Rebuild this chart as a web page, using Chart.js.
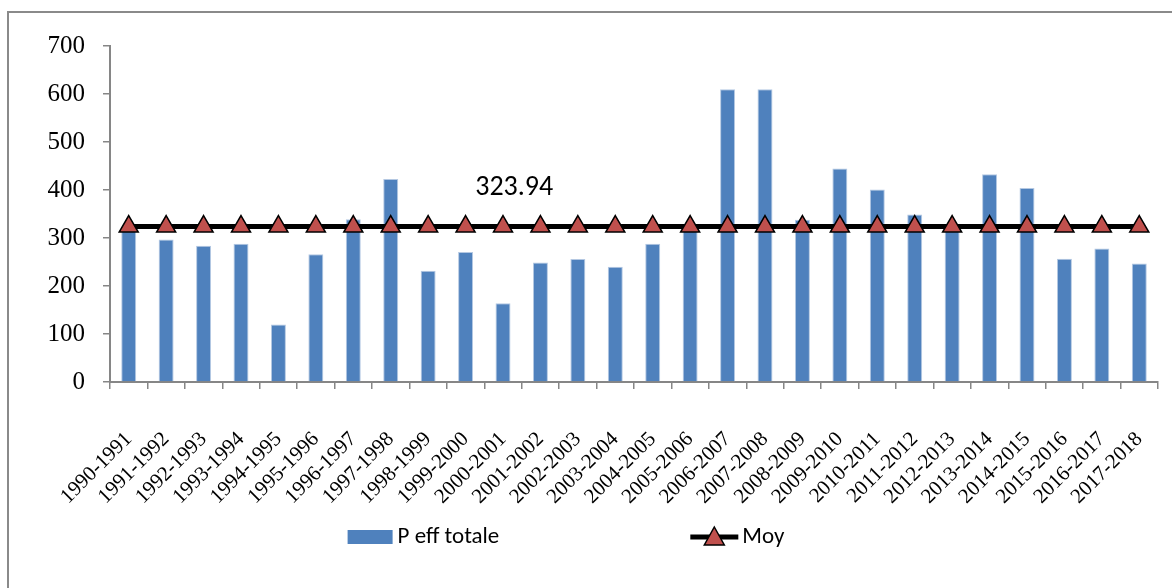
<!DOCTYPE html>
<html lang="fr">
<head>
<meta charset="UTF-8">
<title>P eff totale et moyenne</title>
<script src="https://cdn.jsdelivr.net/npm/chart.js"></script>
<style>
    body {
        margin: 0;
        background: #fff;
        overflow: hidden;
    }
    #wrap {
        position: relative;
        width: 1172px;
        height: 588px;
    }
    #frame {
        position: absolute;
        left: 7px;
        top: 11px;
        width: 1200px;
        height: 620px;
        border: 2px solid #8a8a8a;
    }
    #chart {
        position: absolute;
        left: 0;
        top: 0;
    }
</style>
</head>
<body>
<div id="wrap">
    <div id="frame"></div>
    <canvas id="chart" width="1172" height="588"></canvas>
</div>

<script>
    // campagnes
    const seasons = [
        '1990-1991', '1991-1992', '1992-1993', '1993-1994', '1994-1995', '1995-1996', '1996-1997',
        '1997-1998', '1998-1999', '1999-2000', '2000-2001', '2001-2002', '2002-2003', '2003-2004',
        '2004-2005', '2005-2006', '2006-2007', '2007-2008', '2008-2009', '2009-2010', '2010-2011',
        '2011-2012', '2012-2013', '2013-2014', '2014-2015', '2015-2016', '2016-2017', '2017-2018'
    ];
    // P eff totale
    const pEffTotale = [
        318, 297, 284, 288, 120, 266, 339,
        423, 232, 271, 164, 249, 256, 240,
        288, 322, 610, 610, 338, 445, 401,
        349, 318, 433, 404, 257, 278, 247
    ];
    // moyenne
    const moy = [
        323.94, 323.94, 323.94, 323.94, 323.94, 323.94, 323.94,
        323.94, 323.94, 323.94, 323.94, 323.94, 323.94, 323.94,
        323.94, 323.94, 323.94, 323.94, 323.94, 323.94, 323.94,
        323.94, 323.94, 323.94, 323.94, 323.94, 323.94, 323.94
    ];
    const yTicks = [0, 100, 200, 300, 400, 500, 600, 700];
    const moyLabel = '323.94';

    const blue = '#4f81bd';
    const red = '#c0504d';
    const axisGrey = '#868686';
    const uiFont = 'Carlito, Lato, sans-serif';

    // libellé de la moyenne au-dessus de la ligne
    const moyLabelPlugin = {
        id: 'moyLabel',
        afterDatasetsDraw(chart, args, opts) {
            const ctx = chart.ctx;
            const x = chart.scales.x.getPixelForValue(opts.at);
            const y = chart.scales.y.getPixelForValue(opts.level);
            ctx.save();
            ctx.font = '28px ' + uiFont;
            ctx.fillStyle = '#000';
            ctx.textAlign = 'center';
            ctx.textBaseline = 'middle';
            ctx.fillText(moyLabel, x, y);
            ctx.restore();
        }
    };

    // légende façon Excel : carré bleu puis ligne avec triangle
    const excelLegend = {
        id: 'excelLegend',
        afterDraw(chart, args, opts) {
            const ctx = chart.ctx;
            const bars = chart.data.datasets.find(d => d.type === 'bar');
            const line = chart.data.datasets.find(d => d.type === 'line');
            ctx.save();
            ctx.font = '23px ' + uiFont;
            ctx.textBaseline = 'middle';
            const w1 = 45 + 5 + ctx.measureText(bars.label).width;
            const w2 = 48 + 4 + ctx.measureText(line.label).width;
            let x = opts.centerX - (w1 + opts.gap + w2) / 2;
            const y = opts.y;

            ctx.fillStyle = blue;
            ctx.fillRect(x, y - 7, 45, 14);
            ctx.fillStyle = '#000';
            ctx.fillText(bars.label, x + 50, y);

            x += w1 + opts.gap;
            ctx.strokeStyle = '#000';
            ctx.lineWidth = 5;
            ctx.beginPath();
            ctx.moveTo(x, y);
            ctx.lineTo(x + 48, y);
            ctx.stroke();
            ctx.beginPath();
            ctx.moveTo(x + 24, y - 10);
            ctx.lineTo(x + 34, y + 8);
            ctx.lineTo(x + 14, y + 8);
            ctx.closePath();
            ctx.fillStyle = red;
            ctx.fill();
            ctx.lineWidth = 1.5;
            ctx.stroke();
            ctx.fillStyle = '#000';
            ctx.fillText(line.label, x + 52, y);
            ctx.restore();
        }
    };

    new Chart(document.getElementById('chart'), {
        data: {
            labels: seasons,
            datasets: [
                {
                    type: 'line',
                    label: 'Moy',
                    data: moy,
                    borderColor: '#000',
                    borderWidth: 5,
                    pointStyle: 'triangle',
                    pointRadius: 11,
                    pointBackgroundColor: red,
                    pointBorderColor: '#000',
                    pointBorderWidth: 1.5,
                    order: 0
                },
                {
                    type: 'bar',
                    label: 'P eff totale',
                    data: pEffTotale,
                    backgroundColor: blue,
                    borderColor: '#b4c8e2',
                    borderWidth: 1,
                    barPercentage: 0.4,
                    categoryPercentage: 1,
                    order: 1
                }
            ]
        },
        options: {
            responsive: false,
            animation: false,
            layout: {
                padding: { left: 0, top: 46, right: 14, bottom: 0 }
            },
            scales: {
                x: {
                    offset: true,
                    grid: {
                        offset: true,
                        drawOnChartArea: false,
                        drawTicks: true,
                        tickLength: 7,
                        color: axisGrey,
                        lineWidth: 1.5
                    },
                    border: { color: axisGrey, width: 2 },
                    ticks: {
                        autoSkip: false,
                        minRotation: 45,
                        maxRotation: 45,
                        padding: 38,
                        color: '#000',
                        font: { family: 'Liberation Serif', size: 21 }
                    },
                    afterFit(scale) {
                        scale.height = 206;
                        scale.paddingLeft = 0;
                        scale.paddingRight = 0;
                    }
                },
                y: {
                    min: 0,
                    max: 700,
                    afterBuildTicks(scale) {
                        scale.ticks = yTicks.map(v => ({ value: v }));
                    },
                    grid: {
                        drawOnChartArea: false,
                        drawTicks: true,
                        tickLength: 7,
                        color: axisGrey,
                        lineWidth: 1.5
                    },
                    border: { color: axisGrey, width: 2 },
                    ticks: {
                        padding: 18,
                        color: '#000',
                        font: { family: 'Liberation Serif', size: 25 }
                    },
                    afterFit(scale) { scale.width = 110; }
                }
            },
            plugins: {
                legend: { display: false },
                tooltip: { enabled: false },
                moyLabel: { at: 10.3, level: 405 },
                excelLegend: { centerX: 566, y: 537, gap: 191 }
            }
        },
        plugins: [moyLabelPlugin, excelLegend]
    });
</script>
</body>
</html>
